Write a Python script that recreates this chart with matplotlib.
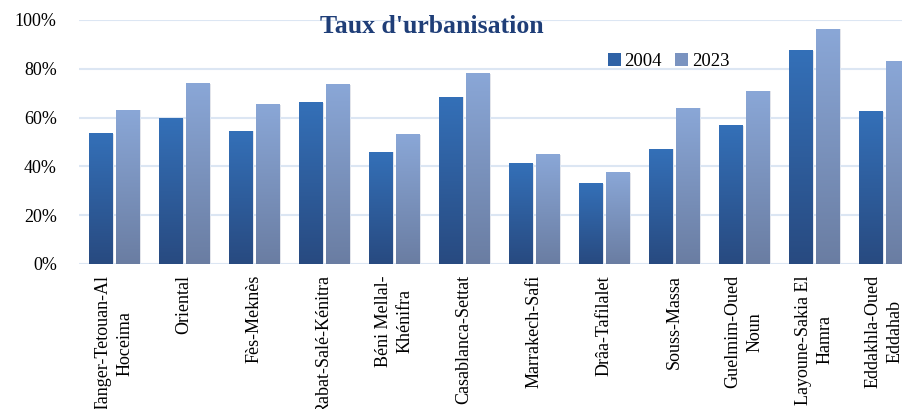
import numpy as np
import matplotlib.pyplot as plt
from matplotlib.colors import LinearSegmentedColormap

# Data
regions = ["Tanger-Tetouan-Al\nHoceima", "Oriental", "Fès-Meknès", "Rabat-Salé-Kénitra",
           "Béni Mellal-\nKhénifra", "Casablanca-Settat", "Marrakech-Safi", "Drâa-Tafilalet",
           "Souss-Massa", "Guelmim-Oued\nNoun", "Layoune-Sakia El\nHamra", "Eddakhla-Oued\nEddahab"]
v2004 = [0.533, 0.598, 0.545, 0.660, 0.459, 0.684, 0.410, 0.328, 0.471, 0.566, 0.873, 0.623]
v2023 = [0.631, 0.738, 0.652, 0.734, 0.529, 0.779, 0.447, 0.373, 0.639, 0.709, 0.963, 0.828]

plt.rcParams['font.family'] = ['Liberation Serif', 'DejaVu Serif']

fig = plt.figure(figsize=(9.03, 4.09), dpi=100)
ax = fig.add_axes([79 / 903, 145 / 409, 840 / 903, 244 / 409])

x = np.arange(len(regions))
w = 0.33
off = 0.19

cm04 = LinearSegmentedColormap.from_list("c04", ["#284a80", "#3470b8"])
cm23 = LinearSegmentedColormap.from_list("c23", ["#6a7da2", "#8aa7d7"])

b1 = ax.bar(x - off, v2004, w, color="#2f62a6", label="2004", zorder=2)
b2 = ax.bar(x + off, v2023, w, color="#7a93c0", label="2023", zorder=2)

grad = np.linspace(0, 1, 256).reshape(-1, 1)
for bars, cm in ((b1, cm04), (b2, cm23)):
    for p in bars:
        x0, y0, bw, bh = p.get_x(), p.get_y(), p.get_width(), p.get_height()
        # soft shadow to the right
        ax.add_patch(plt.Rectangle((x0 + bw, 0), 0.03, bh, color="#e2e4ea", zorder=1.5, lw=0))
        ax.imshow(grad, extent=[x0, x0 + bw, y0, y0 + bh], origin="lower",
                  cmap=cm, aspect="auto", zorder=3)

ax.set_xlim(-0.5, len(regions) - 0.5)
ax.set_ylim(0, 1.0)
ax.set_yticks(np.arange(0, 1.01, 0.2))
ax.set_yticklabels([f"{int(round(t * 100))}%" for t in np.arange(0, 1.01, 0.2)], fontsize=13)
ax.set_xticks(x)
ax.set_xticklabels(regions, rotation=90, fontsize=13, ha="center", va="top",
                   multialignment="center", linespacing=1.35)
ax.tick_params(length=0, pad=8)
ax.tick_params(axis="y", pad=16)
ax.grid(axis="y", color="#dce6f3", lw=1.5, zorder=0)
for s in ax.spines.values():
    s.set_visible(False)

ax.text(0.4785, 0.935, "Taux d'urbanisation", transform=fig.transFigure, ha="center",
        va="center", fontsize=18.5, fontweight="bold", color="#1f3e78")

ax.legend(loc="upper left", bbox_to_anchor=(521 / 840, 0.895), ncol=2, frameon=False,
          fontsize=13.5, handlelength=0.7, handleheight=0.7, handletextpad=0.2,
          columnspacing=0.7, borderaxespad=0)

fig.savefig("out.png", dpi=100)
